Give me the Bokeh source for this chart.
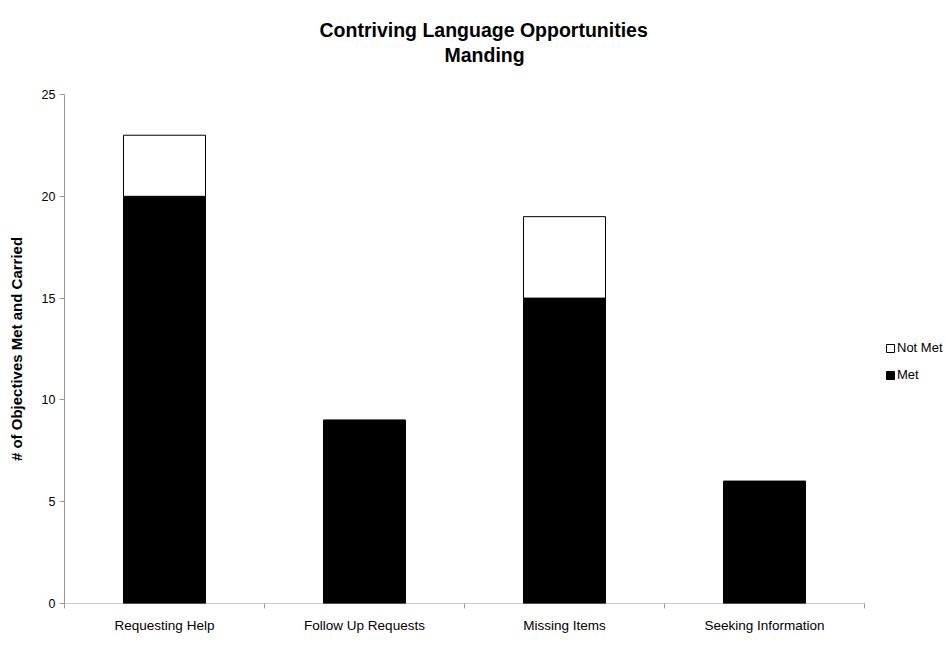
from bokeh.plotting import figure
from bokeh.models import (Range1d, FixedTicker, Legend, LegendItem, Title, ColumnDataSource)
from bokeh.embed import file_html
from bokeh.resources import INLINE

categories = ["Requesting Help", "Follow Up Requests", "Missing Items", "Seeking Information"]
met = [20, 9, 15, 6]
not_met = [3, 0, 4, 0]
y_ticks = [0, 5, 10, 15, 20, 25]

n = len(categories)
xpos = [i + 0.5 for i in range(n)]
src = ColumnDataSource(dict(x=xpos, met=met, not_met=not_met,
                            total=[m + k for m, k in zip(met, not_met)]))

# frame spans 64..948 px horizontally; 200 px per category -> extra room for the legend
p = figure(width=948, height=651, output_backend="svg", toolbar_location=None,
           x_range=Range1d(0, n * 884 / 800), y_range=Range1d(0, 25),
           min_border_left=64, min_border_right=0, min_border_top=94, min_border_bottom=48)

FONT = "Liberation Sans"
p.title.text = "Contriving Language Opportunities"
p.title.align = "left"
p.title.offset = 255
p.title.text_font = FONT
p.title.text_font_size = "19.5px"
p.title.text_font_style = "bold"
p.title.text_color = "black"
p.title.standoff = 0
# spacing panel between the subtitle and the plot area (first added = closest to plot)
spacer = Title(text=" ", text_font_size="1px", standoff=25)
p.add_layout(spacer, "above")
t2 = Title(text="Manding", align="left", offset=380, text_font=FONT, text_color="black",
           text_font_size="19.5px", text_font_style="bold", standoff=2)
p.add_layout(t2, "above")

p.outline_line_color = None
p.xgrid.grid_line_color = None
p.ygrid.grid_line_color = None
p.background_fill_color = "white"
p.border_fill_color = "white"

# x axis line only across the categories
p.segment(x0=[0], y0=[0], x1=[n], y1=[0], line_color="#999999", line_width=1)

bw = 0.41
p.vbar(x="x", top="met", bottom=0, width=bw, source=src, fill_color="black", line_color="black")
p.vbar(x="x", top="total", bottom="met", width=bw, source=src, fill_color="white",
       line_color="black", line_width=1)
# legend glyph renderers (off-range, only shown in the legend)
leg_nm = p.rect(x=[-10], y=[-10], width=0.1, height=0.1, fill_color="white", line_color="black")
leg_m = p.rect(x=[-10], y=[-10], width=0.1, height=0.1, fill_color="black", line_color="black")

legend = Legend(items=[LegendItem(label="Not Met", renderers=[leg_nm]),
                       LegendItem(label="Met", renderers=[leg_m])],
                location=(821, 221), orientation="vertical",
                glyph_width=10, glyph_height=10, label_standoff=2, spacing=12,
                label_text_font=FONT, label_text_font_size="13px", label_height=12,
                label_text_color="black",
                background_fill_alpha=0, border_line_color=None, padding=2, margin=0)
p.add_layout(legend, "center")

# y axis
ya = p.yaxis[0]
ya.ticker = FixedTicker(ticks=y_ticks)
ya.axis_line_color = "#999999"
ya.major_tick_line_color = "#999999"
ya.major_tick_out = 5
ya.major_tick_in = 0
ya.minor_tick_line_color = None
ya.major_label_text_font = FONT
ya.major_label_text_font_size = "12.5px"
ya.major_label_text_color = "black"
ya.major_label_standoff = 4
ya.axis_label = "# of Objectives Met and Carried"
ya.axis_label_text_font = FONT
ya.axis_label_text_font_size = "15px"
ya.axis_label_text_font_style = "bold"
ya.axis_label_text_color = "black"
ya.axis_label_standoff = 14

# x axis
xa = p.xaxis[0]
xa.ticker = FixedTicker(ticks=xpos, minor_ticks=list(range(n + 1)))
xa.major_label_overrides = {x: c for x, c in zip(xpos, categories)}
xa.axis_line_color = None
xa.major_tick_line_color = None
xa.minor_tick_line_color = "#999999"
xa.minor_tick_out = 5
xa.minor_tick_in = 0
xa.major_label_text_font = FONT
xa.major_label_text_font_size = "13.5px"
xa.major_label_text_color = "black"
xa.major_label_standoff = 8

open("out.html", "w").write(file_html(p, INLINE))
